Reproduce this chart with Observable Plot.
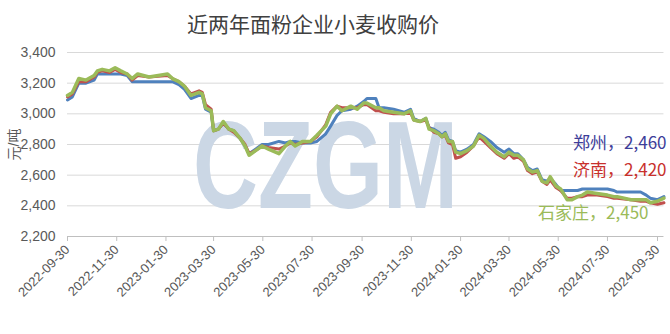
<!DOCTYPE html>
<html><head><meta charset="utf-8">
<script src="https://cdn.jsdelivr.net/npm/d3@7"></script>
<script src="https://cdn.jsdelivr.net/npm/@observablehq/plot@0.6"></script>
<style>
body{margin:0;background:#fff;}
#title{height:40px;line-height:46px;text-align:center;padding-right:44px;font-family:"Noto Sans CJK SC";font-size:21px;color:#404040;}
#chart svg{display:block;}
</style></head><body>
<div id="title">近两年面粉企业小麦收购价</div>
<div id="chart"></div>
<script>
const dates = ["2022-09-30","2022-10-06","2022-10-14","2022-10-23","2022-11-02","2022-11-06","2022-11-12","2022-11-21","2022-11-28","2022-12-05",
"2022-12-13","2022-12-19","2022-12-26","2023-01-09","2023-02-01","2023-02-07","2023-02-15","2023-02-22","2023-03-02","2023-03-12",
"2023-03-16","2023-03-20","2023-03-27","2023-03-30","2023-04-05","2023-04-11","2023-04-18","2023-04-24","2023-05-02","2023-05-08",
"2023-05-13","2023-05-21","2023-05-29","2023-06-06","2023-06-19","2023-06-27","2023-07-03","2023-07-09","2023-07-18","2023-07-28",
"2023-08-05","2023-08-16","2023-08-22","2023-08-30","2023-09-05","2023-09-16","2023-09-24","2023-10-02","2023-10-06","2023-10-17",
"2023-10-21","2023-10-27","2023-11-08","2023-11-21","2023-11-29","2023-12-03","2023-12-11","2023-12-18","2023-12-22","2023-12-28",
"2024-01-03","2024-01-07","2024-01-11","2024-01-15","2024-01-20","2024-01-24","2024-01-30","2024-02-07","2024-02-15","2024-02-22",
"2024-02-28","2024-03-07","2024-03-15","2024-03-24","2024-03-30","2024-04-05","2024-04-10","2024-04-17","2024-04-22","2024-04-28",
"2024-05-04","2024-05-10","2024-05-16","2024-05-20","2024-05-27","2024-06-02","2024-06-10","2024-06-16","2024-06-23","2024-06-29",
"2024-07-05","2024-07-17","2024-07-30","2024-08-07","2024-08-11","2024-08-28","2024-09-09","2024-09-16","2024-09-21","2024-09-30","2024-10-08"];

const zhengzhou = [3090,3110,3200,3200,3220,3260,3260,3260,3260,3260,
3250,3210,3210,3210,3210,3210,3190,3160,3100,3120,
3120,3030,3010,2890,2900,2940,2900,2890,2840,2790,
2740,2770,2800,2800,2820,2810,2820,2820,2810,2810,
2820,2870,2920,2990,3020,3030,3050,3080,3100,3100,
3040,3040,3030,3010,3030,2970,2950,2970,2910,2900,
2880,2860,2880,2830,2820,2760,2750,2770,2800,2870,
2850,2820,2780,2750,2770,2740,2740,2700,2650,2630,
2640,2570,2560,2580,2540,2500,2500,2500,2500,2510,
2510,2510,2510,2500,2490,2490,2490,2470,2450,2440,2460];

const jinan = [3110,3130,3210,3210,3240,3270,3280,3270,3290,3270,
3260,3220,3250,3240,3250,3230,3210,3180,3130,3150,
3140,3060,3030,2890,2900,2940,2900,2880,2840,2800,
2740,2760,2790,2780,2770,2790,2810,2800,2810,2820,
2850,2930,3010,3050,3040,3040,3040,3060,3060,3020,
3020,3010,3000,3000,3010,2960,2950,2960,2910,2880,
2870,2850,2860,2810,2800,2710,2720,2750,2790,2850,
2820,2780,2740,2710,2740,2710,2720,2690,2630,2610,
2620,2560,2540,2570,2520,2500,2450,2450,2460,2460,
2470,2470,2460,2450,2450,2440,2430,2430,2420,2410,2420];

const shijiazhuang = [3120,3140,3230,3220,3250,3280,3290,3280,3300,3280,
3260,3230,3260,3240,3260,3230,3210,3180,3120,3140,
3130,3040,3020,2890,2900,2950,2900,2890,2840,2790,
2730,2760,2790,2770,2740,2790,2820,2790,2820,2820,
2860,2920,3000,3050,3020,3050,3030,3070,3070,3040,
3040,3020,3010,3000,3020,2960,2950,2970,2900,2890,
2870,2850,2870,2820,2820,2750,2740,2760,2790,2860,
2840,2790,2750,2720,2750,2730,2730,2700,2640,2620,
2630,2560,2550,2590,2530,2510,2440,2440,2460,2470,
2490,2480,2470,2460,2460,2440,2440,2440,2420,2430,2450];

const cities = ["郑州", "济南", "石家庄"];
const lineColors = ["#4f81bd", "#c0504d", "#9bbb59"];
const labelColors = ["#3d3d99", "#c8302c", "#9bbb59"];
const latestValues = [2460, 2420, 2450];
const yTicks = [2200, 2400, 2600, 2800, 3000, 3200, 3400];
const xTicks = ["2022-09-30","2022-11-30","2023-01-30","2023-03-30","2023-05-30","2023-07-30","2023-09-30",
"2023-11-30","2024-01-30","2024-03-30","2024-05-30","2024-07-30","2024-09-30"];
const watermark = ["CZGM"];

const parse = d3.utcParse("%Y-%m-%d");
const fmtDate = d3.utcFormat("%Y-%m-%d");
const seriesValues = [zhengzhou, jinan, shijiazhuang];
const rows = [];
cities.forEach((city, k) => seriesValues[k].forEach((v, i) => rows.push({city, date: parse(dates[i]), value: v})));
const xStart = parse(xTicks[0]);
const xEnd = parse(dates[dates.length - 1]);
const labelRows = cities.map((city, k) => ({city, text: city + "，" + d3.format(",")(latestValues[k]), color: labelColors[k]}));
const labelDy = [91, 118, 161];
const labelDx = [9, 9, -9];

const chart = Plot.plot({
  width: 670, height: 294,
  marginLeft: 67, marginRight: 13, marginTop: 12, marginBottom: 98,
  style: {fontFamily: "'Liberation Sans', 'Noto Sans CJK SC', sans-serif", fontSize: "13px", color: "#595959", background: "white", overflow: "visible"},
  x: {type: "utc", domain: [xStart, parse(xTicks[xTicks.length - 1])]},
  y: {domain: [2200, 3400]},
  color: {domain: cities, range: lineColors},
  marks: [
    Plot.ruleY(yTicks.slice(1), {x1: () => xStart, x2: () => xEnd, stroke: "#d9d9d9", strokeWidth: 1}),
    Plot.ruleY([yTicks[0]], {x1: () => xStart, x2: () => xEnd, stroke: "#bfbfbf", strokeWidth: 1}),
    Plot.axisX({ticks: xTicks.map(parse), tickFormat: fmtDate, tickSize: 5, tickPadding: 6, tickRotate: -45, stroke: "#bfbfbf", label: null, fill: "#595959", fontSize: 13}),
    Plot.axisY({ticks: yTicks, tickSize: 0, tickPadding: 12, tickFormat: d3.format(","), label: "元/吨", labelAnchor: "center", labelArrow: "none", labelOffset: 58, fill: "#595959", fontSize: 14}),
    Plot.text(watermark, {frameAnchor: "middle", dx: -37, dy: 24, text: d => d, fontSize: 124, fontWeight: "bold", fill: "#cbd7e5", fontFamily: "'Liberation Sans'", lineAnchor: "middle", className: "wm"}),
    ...cities.map((city, k) => Plot.line(rows.filter(r => r.city === city), {x: "date", y: "value", stroke: "city", strokeWidth: k === 2 ? 3.5 : 3, strokeLinejoin: "round"})),
    ...labelRows.map((r, k) => Plot.text([r], {frameAnchor: "top-right", dx: labelDx[k], dy: labelDy[k], text: "text", fill: "color", textAnchor: "end", lineAnchor: "middle", fontSize: 17, fontFamily: "'Noto Sans CJK SC'"}))
  ]
});
document.getElementById("chart").appendChild(chart);
chart.querySelectorAll(".wm text").forEach(t => { t.setAttribute("textLength", 265); t.setAttribute("lengthAdjust", "spacingAndGlyphs"); });
</script>
</body></html>
